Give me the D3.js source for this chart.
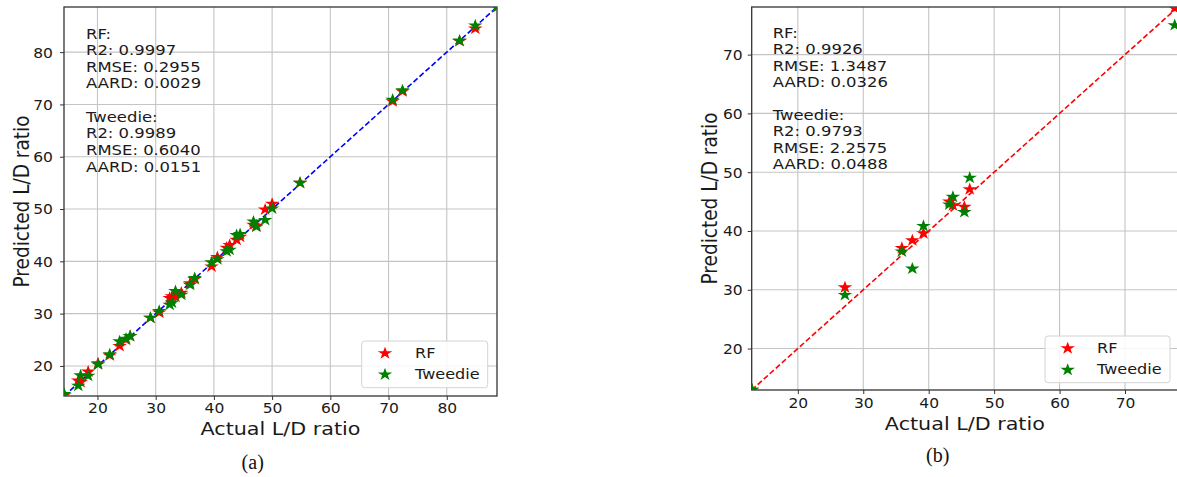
<!DOCTYPE html>
<html>
<head>
<meta charset="utf-8">
<script src="https://cdn.jsdelivr.net/npm/d3@7"></script>
<style>
  body { margin: 0; background: #fff; }
  svg { display: block; }
</style>
</head>
<body>
<svg id="chart" width="1177" height="477"></svg>
<script>
// panel (a) values
const actualA = [14.3, 16.7, 17.1, 18.4, 20.1, 22.1, 23.8, 24.9, 25.6, 29.1, 30.6, 32.4, 32.8, 33.4, 34.4, 35.9, 36.7, 39.6, 40.6, 42.2, 42.7, 43.9, 44.5, 46.8, 47.3, 48.8, 50.0, 54.8, 70.7, 72.4, 82.2, 84.9, 88.6];
const rfA = [14.4, 17.2, 16.9, 18.9, 20.5, 22.0, 23.8, 25.0, 25.7, 29.2, 30.2, 33.0, 33.3, 33.2, 34.0, 35.8, 36.6, 39.0, 40.8, 42.6, 43.1, 44.1, 44.7, 47.0, 46.8, 49.9, 51.0, 55.0, 70.6, 72.5, 82.1, 84.5, 88.6];
const tweedieA = [14.6, 16.2, 18.2, 18.1, 20.3, 22.2, 24.7, 25.2, 25.7, 29.2, 30.5, 31.7, 32.1, 34.3, 33.6, 35.5, 36.8, 39.8, 40.4, 41.9, 42.2, 45.0, 45.2, 47.6, 46.6, 47.9, 50.1, 55.0, 70.9, 72.7, 82.2, 85.1, 88.6];
const limitsA = [14.25, 88.63];
const ticksA = [20, 30, 40, 50, 60, 70, 80];
const statsA = ["RF:", "R2: 0.9997", "RMSE: 0.2955", "AARD: 0.0029", "", "Tweedie:", "R2: 0.9989", "RMSE: 0.6040", "AARD: 0.0151"];

// panel (b)
const actualB = [13.0, 27.2, 35.9, 37.5, 39.2, 43.15, 43.7, 45.45, 46.27, 77.6];
const rfB = [13.0, 30.4, 37.1, 38.4, 39.6, 45.0, 44.35, 44.1, 47.1, 77.9];
const tweedieB = [13.0, 29.1, 36.5, 33.6, 40.85, 44.5, 45.8, 43.2, 49.05, 75.0];
const limitsB = [12.95, 78.1];
const ticksB = [20, 30, 40, 50, 60, 70];
const statsB = ["RF:", "R2: 0.9926", "RMSE: 1.3487", "AARD: 0.0326", "", "Tweedie:", "R2: 0.9793", "RMSE: 2.2575", "AARD: 0.0488"];

const seriesNames = ["RF", "Tweedie"];
const seriesColors = ["#ff0000", "#008000"];

var SX = 1.15;   // the figure is a bit wider than tall
var FONT = "'DejaVu Sans', sans-serif";
var svg = d3.select("#chart");
var star = d3.symbol(d3.symbolStar, 50);

function drawPanel(id, box, limits, ticks, actual, rf, tweedie, stats, lineColor, opt) {
    var x = d3.scaleLinear().domain(limits).range([box.left, box.right]);
    var y = d3.scaleLinear().domain(limits).range([box.bottom, box.top]);
    var g = svg.append("g");

    g.append("clipPath").attr("id", "clip" + id)
        .append("rect")
        .attr("x", box.left).attr("y", box.top)
        .attr("width", box.right - box.left).attr("height", box.bottom - box.top);

    // grid
    g.selectAll(".gx").data(ticks).enter().append("line")
        .attr("x1", d => x(d)).attr("x2", d => x(d))
        .attr("y1", box.top).attr("y2", box.bottom)
        .attr("stroke", "#c4c4c4").attr("stroke-width", 1.1)
    g.selectAll(".gy").data(ticks).enter().append("line")
        .attr("y1", d => y(d)).attr("y2", d => y(d))
        .attr("x1", box.left).attr("x2", box.right)
        .attr("stroke", "#c4c4c4").attr("stroke-width", 1.1)

    // axes
    var xAxis = g.append("g")
        .attr("transform", `translate(0,${box.bottom})`)
        .call(d3.axisBottom(x).tickValues(ticks).tickSize(4).tickPadding(0));
    xAxis.selectAll("text")
        .attr("y", 0).attr("dy", 0)
        .attr("transform", `translate(0,${opt.xTickY}) scale(${SX},1)`);
    var yAxis = g.append("g")
        .attr("transform", `translate(${box.left},0)`)
        .call(d3.axisLeft(y).tickValues(ticks).tickSize(4).tickPadding(0));
    yAxis.selectAll("text")
        .attr("x", 0).attr("dy", "0.36em")
        .attr("transform", `translate(${-opt.yTickGap},0) scale(${SX},1)`);
    g.selectAll(".domain").remove();
    g.selectAll(".tick line").attr("stroke", "#333").attr("stroke-width", 1);
    g.selectAll(".tick text")
        .style("font-family", FONT).style("font-size", "13.5px").attr("fill", "#1a1a1a");

    // frame
    g.append("rect")
        .attr("x", box.left).attr("y", box.top)
        .attr("width", box.right - box.left).attr("height", box.bottom - box.top)
        .attr("fill", "none").attr("stroke", "#333").attr("stroke-width", 1.3);

    // diagonal
    g.append("line")
        .attr("clip-path", `url(#clip${id})`)
        .attr("x1", x(limits[0])).attr("y1", y(limits[0]))
        .attr("x2", x(limits[1])).attr("y2", y(limits[1]))
        .attr("stroke", lineColor).attr("stroke-width", 1.6)
        .attr("stroke-dasharray", "5.5,2.6");

    // points
    var pts = g.append("g").attr("clip-path", `url(#clip${id})`);
    [rf, tweedie].forEach(function (pred, s) {
        pts.selectAll(".s" + s).data(actual).enter().append("path")
            .attr("d", star)
            .attr("transform", (d, i) => `translate(${x(d)},${y(pred[i])}) scale(${SX},1)`)
            .attr("fill", seriesColors[s]);
    });

    // stats text
    stats.forEach(function (line, i) {
        if (line == "") return;
        g.append("text")
            .attr("transform", `translate(${opt.statX},${opt.statY + i * opt.statStep}) scale(${SX},1)`)
            .style("font-family", FONT).style("font-size", "14.3px")
            .attr("fill", "#1a1a1a")
            .text(line);
    });

    // legend
    var lg = opt.legend;
    g.append("rect")
        .attr("x", lg.x).attr("y", lg.y).attr("width", lg.w).attr("height", lg.h)
        .attr("rx", 3)
        .attr("fill", "white").attr("fill-opacity", 0.85)
        .attr("stroke", "#d4d4d4").attr("stroke-width", 1);
    seriesNames.forEach(function (name, i) {
        g.append("path")
            .attr("d", star)
            .attr("transform", `translate(${lg.mx},${lg.my + i * lg.step}) scale(${SX},1)`)
            .attr("fill", seriesColors[i]);
        g.append("text")
            .attr("transform", `translate(${lg.tx},${lg.ty + i * lg.step}) scale(${SX},1)`)
            .style("font-family", FONT).style("font-size", "14px")
            .attr("fill", "#1a1a1a")
            .text(name);
    });

    // axis labels
    g.append("text")
        .attr("transform", `translate(${(box.left + box.right) / 2},${opt.xLabelY}) scale(${SX},1)`)
        .style("font-family", FONT).style("font-size", "18px")
        .style("text-anchor", "middle").attr("fill", "#1a1a1a")
        .text("Actual L/D ratio");
    g.append("text")
        .attr("transform", `translate(${opt.yLabelX},${(box.top + box.bottom) / 2}) scale(${SX},1) rotate(-90)`)
        .style("font-family", FONT).style("font-size", "18.5px")
        .style("text-anchor", "middle").attr("fill", "#1a1a1a")
        .text("Predicted L/D ratio");

    // caption
    g.append("text")
        .attr("x", opt.capX).attr("y", opt.capY)
        .style("font-family", "'Liberation Serif', 'Times New Roman', serif")
        .style("font-size", "20px")
        .style("text-anchor", "middle").attr("fill", "#111")
        .text(opt.caption);
}

drawPanel("a", {left: 64, right: 497, top: 7, bottom: 396}, limitsA, ticksA,
    actualA, rfA, tweedieA, statsA, "#0000ff", {
        xTickY: 17, yTickGap: 11,
        statX: 86, statY: 38.5, statStep: 16.65,
        legend: {x: 361.7, y: 341, w: 126, h: 46.7, mx: 385, my: 353.3, tx: 415, ty: 357.7, step: 21.2},
        xLabelY: 435, yLabelX: 28.5,
        capX: 252.7, capY: 469, caption: "(a)"
    });

drawPanel("b", {left: 751.7, right: 1178, top: 7, bottom: 390}, limitsB, ticksB,
    actualB, rfB, tweedieB, statsB, "#ff0000", {
        xTickY: 18, yTickGap: 9,
        statX: 772.7, statY: 38, statStep: 16.4,
        legend: {x: 1045, y: 336, w: 125, h: 46.7, mx: 1067.7, my: 348.3, tx: 1097, ty: 352.7, step: 21.6},
        xLabelY: 430, yLabelX: 716.7,
        capX: 937.7, capY: 462, caption: "(b)"
    });
</script>
</body>
</html>
